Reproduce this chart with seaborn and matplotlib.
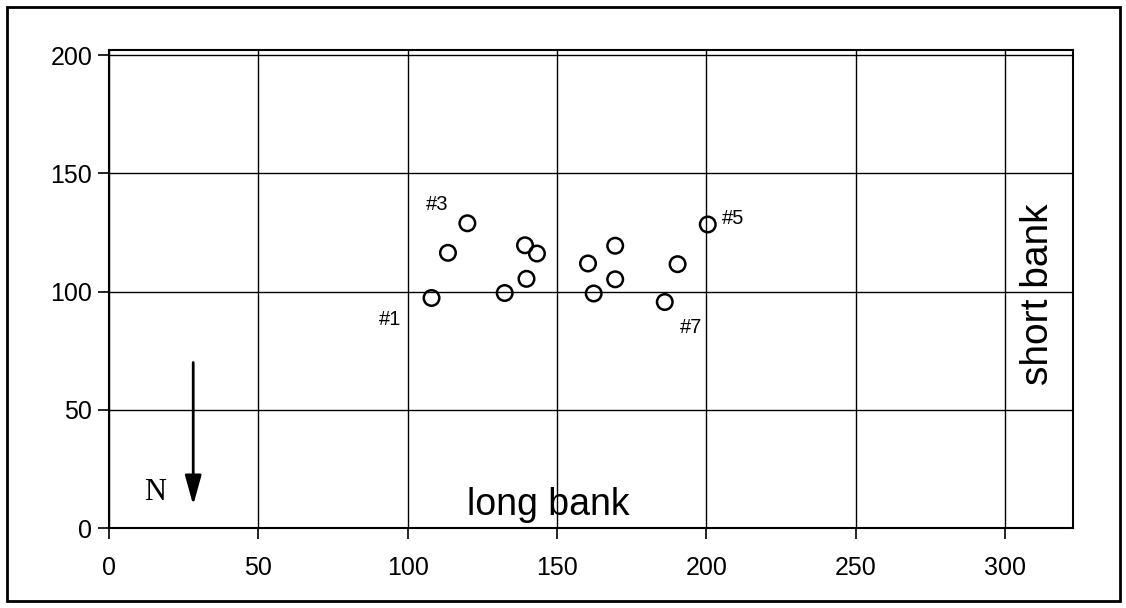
import numpy as np
import pandas as pd
import seaborn as sns
import matplotlib.pyplot as plt
from matplotlib.patches import Rectangle

# --- data ---
x_pos = [108, 113.5, 120, 132.5, 139.3, 143.3, 139.8, 160.4, 162.3, 169.5, 169.5, 186.1, 190.4, 200.5]
y_pos = [97.3, 116.4, 128.9, 99.4, 119.6, 116.1, 105.4, 111.9, 99.2, 119.4, 105.2, 95.6, 111.6, 128.4]

tag_text = ['#1', '#3', '#5', '#7']
tag_x = [94, 110, 209, 195]
tag_y = [88, 137, 131, 85]

x_ticks = [0, 50, 100, 150, 200, 250, 300]
y_ticks = [0, 50, 100, 150, 200]

df = pd.DataFrame({'x': x_pos, 'y': y_pos})

sns.set_style('white')
plt.rcParams['font.family'] = ['Liberation Sans', 'DejaVu Sans']

fig = plt.figure(figsize=(11.26, 6.08), dpi=100)
ax = fig.add_axes([109 / 1126, 1 - 528 / 608, (1073 - 109) / 1126, (528 - 50) / 608])

sns.scatterplot(data=df, x='x', y='y', ax=ax, marker='o', s=125,
                facecolor='none', edgecolor='black', linewidth=1.8, zorder=3)

ax.set_xlim(0, 322.8)
ax.set_ylim(0, 202.2)
ax.set_xticks(x_ticks)
ax.set_yticks(y_ticks)
ax.grid(True, color='black', linewidth=1.0)
ax.set_axisbelow(True)
for sp in ax.spines.values():
    sp.set_color('black')
    sp.set_linewidth(1.5)
ax.tick_params(axis='both', direction='out', length=8, width=1.2, color='black',
               labelsize=18, labelcolor='black', bottom=True, left=True)
ax.tick_params(axis='x', pad=12)
ax.tick_params(axis='y', pad=4)
ax.set_xlabel('')
ax.set_ylabel('')

# labels next to some points
for t, tx, ty in zip(tag_text, tag_x, tag_y):
    ax.text(tx, ty, t, fontsize=14.5, ha='center', va='center', color='black')

# bank labels
ax.text(147, 2, 'long bank', fontsize=27, ha='center', va='bottom', color='black')
ax.text(311, 99, 'short bank', fontsize=28, rotation=90, ha='center', va='center', color='black')

# north arrow
ax.annotate('', xy=(28.2, 9.7), xytext=(28.2, 70),
            arrowprops=dict(arrowstyle='-|>,head_length=1.8,head_width=0.5', color='black', lw=2,
                            shrinkA=0, shrinkB=0))
ax.text(15.5, 15, 'N', fontsize=22, family='Liberation Serif', ha='center', va='center', color='black')

# frame around the whole figure
fig.add_artist(Rectangle((7 / 1126, 7 / 608), (1120 - 7) / 1126, (601 - 7) / 608,
                         transform=fig.transFigure, fill=False, edgecolor='black', linewidth=2))

plt.savefig('out.png', dpi=100)
